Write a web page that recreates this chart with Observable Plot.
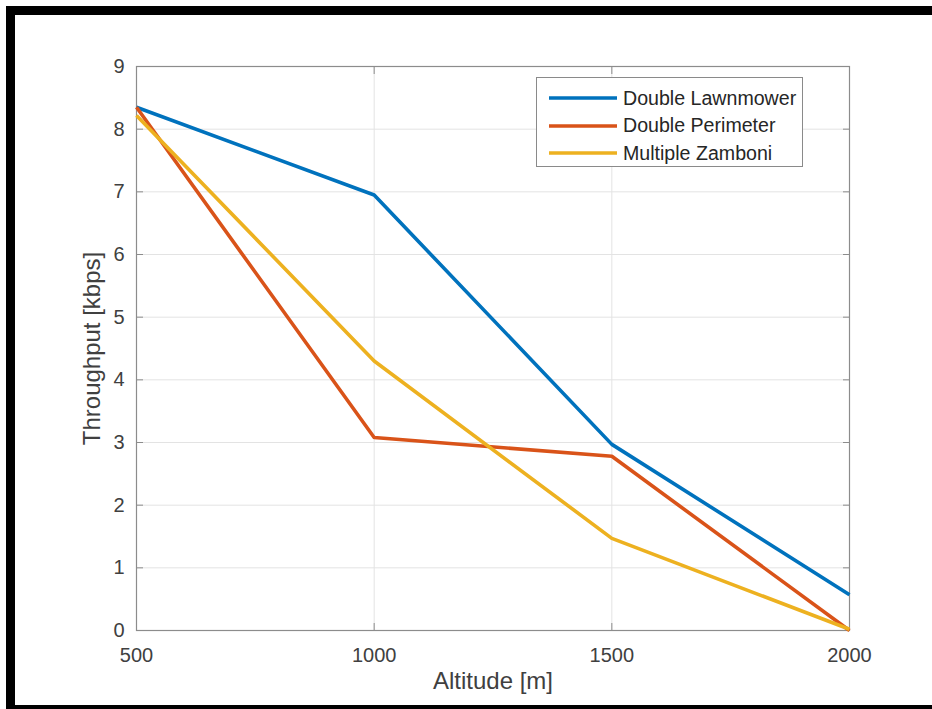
<!DOCTYPE html>
<html>
<head>
<meta charset="utf-8">
<script src="https://cdn.jsdelivr.net/npm/d3@7"></script>
<script src="https://cdn.jsdelivr.net/npm/@observablehq/plot@0.6"></script>
<style>
  html, body { margin: 0; padding: 0; background: #fff; overflow: hidden; }
  #wrap { position: relative; width: 932px; height: 709px; font-family: "Liberation Sans", Arial, sans-serif; }
  #chart svg { position: absolute; left: 0; top: 0; }
  #border { position: absolute; left: 6px; top: 6px; width: 1000px; height: 708px; box-sizing: border-box;
            border-left: 9px solid #000; border-top: 9px solid #000; border-bottom: 9px solid #000; pointer-events: none; }
  #legend { position: absolute; left: 536px; top: 77px; width: 267px; height: 90px; box-sizing: border-box;
            border: 1px solid #8a8a8a; background: #fff; font-size: 19.6px; color: #262626; }
  #legend .item { position: absolute; left: 11px; display: flex; align-items: center; height: 22px; white-space: nowrap; }
  #legend .item svg { display: block; margin-right: 5px; }
</style>
</head>
<body>
<div id="wrap"><div id="chart"></div><div id="legend"></div><div id="border"></div></div>
<script>
const altitudes = [500, 1000, 1500, 2000];
const seriesNames = ["Double Lawnmower", "Double Perimeter", "Multiple Zamboni"];
const lawnmower = [8.35, 6.95, 2.97, 0.57];
const perimeter = [8.35, 3.08, 2.78, 0.0];
const zamboni = [8.22, 4.30, 1.47, 0.02];
const colors = ["#0072BD", "#D95319", "#EDB120"];
const xTicks = [500, 1000, 1500, 2000];
const yTicks = [0, 1, 2, 3, 4, 5, 6, 7, 8, 9];

const seriesValues = [lawnmower, perimeter, zamboni];
const data = [];
seriesNames.forEach((name, i) => {
  altitudes.forEach((a, j) => data.push({series: name, altitude: a, value: seriesValues[i][j]}));
});

const axisColor = "#8c8c8c";
const textColor = "#404040";
const fmt = d => String(d);

const chart = Plot.plot({
  width: 932,
  height: 709,
  marginLeft: 136,
  marginRight: 83,
  marginTop: 66,
  marginBottom: 79,
  style: {fontFamily: "'Liberation Sans', Arial, sans-serif", background: "transparent", color: textColor},
  x: {domain: [500, 2000], label: null},
  y: {domain: [0, 9], label: null},
  color: {domain: seriesNames, range: colors},
  marks: [
    Plot.gridX(xTicks, {stroke: "#e3e3e3", strokeOpacity: 1, strokeWidth: 1}),
    Plot.gridY(yTicks, {stroke: "#e3e3e3", strokeOpacity: 1, strokeWidth: 1}),
    Plot.frame({stroke: axisColor, strokeWidth: 1.2}),
    Plot.axisX(xTicks, {anchor: "bottom", tickSize: -7, text: null, stroke: axisColor}),
    Plot.axisX(xTicks, {anchor: "top", tickSize: -7, text: null, stroke: axisColor}),
    Plot.axisY(yTicks, {anchor: "left", tickSize: -7, text: null, stroke: axisColor}),
    Plot.axisY(yTicks, {anchor: "right", tickSize: -7, text: null, stroke: axisColor}),
    Plot.axisX(xTicks, {anchor: "bottom", tickSize: 0, tickPadding: 17, fontSize: 20, fill: textColor, label: null, tickFormat: fmt}),
    Plot.axisY(yTicks, {anchor: "left", tickSize: 0, tickPadding: 12, fontSize: 20, fill: textColor, label: null, tickFormat: fmt}),
    Plot.lineY(data, {x: "altitude", y: "value", stroke: "series", z: "series", strokeWidth: 3.6, strokeLinejoin: "round", strokeLinecap: "butt"}),
    Plot.text(["Altitude [m]"], {frameAnchor: "bottom", dy: 58, fontSize: 24, fill: textColor}),
    Plot.text(["Throughput [kbps]"], {frameAnchor: "left", textAnchor: "middle", dx: -44, rotate: -90, fontSize: 24, fill: textColor})
  ]
});
document.getElementById("chart").appendChild(chart);

const legend = document.getElementById("legend");
seriesNames.forEach((name, i) => {
  const item = document.createElement("div");
  item.className = "item";
  item.style.top = (9 + i * 27.5) + "px";
  item.innerHTML = `<svg width="70" height="6"><line x1="1" y1="3" x2="69" y2="3" stroke="${colors[i]}" stroke-width="3.6"/></svg><span>${name}</span>`;
  legend.appendChild(item);
});
</script>
</body>
</html>
